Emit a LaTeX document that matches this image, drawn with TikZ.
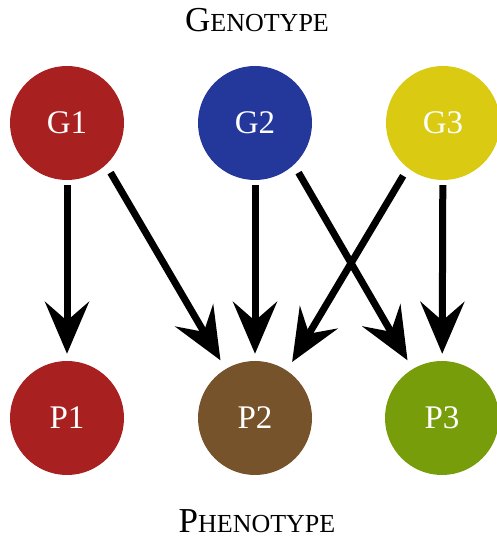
\documentclass[tikz,border=0pt]{standalone}
\usepackage{fontspec}
\setmainfont{Liberation Serif}
\usetikzlibrary{arrows.meta}
\definecolor{cred}{HTML}{A8201F}
\definecolor{cblue}{HTML}{24379B}
\definecolor{cyellow}{HTML}{DACA12}
\definecolor{cbrown}{HTML}{76532A}
\definecolor{cgreen}{HTML}{789D0B}
\begin{document}
\begin{tikzpicture}[x=1pt,y=1pt,
  ball/.style={circle,minimum size=114pt,inner sep=0pt,fill=#1,text=white,
    font=\fontsize{33}{36}\selectfont},
  arr/.style={line width=7pt,-{Stealth[length=52pt,width=44pt,inset=19pt]}},
  ttl/.style={anchor=base,inner sep=0pt}]
\useasboundingbox[fill=white] (0,0) rectangle (497,540);
\node[ball=cred]    (G1) at (67,417) {G1};
\node[ball=cblue]   (G2) at (255,417) {G2};
\node[ball=cyellow] (G3) at (443,417) {G3};
\node[ball=cred]    (P1) at (67,122) {P1};
\node[ball=cbrown]  (P2) at (255,122) {P2};
\node[ball=cgreen]  (P3) at (442,122) {P3};
\node[ttl] (T1) at (257,508) {{\fontsize{35}{40}\selectfont G}{\fontsize{26}{30}\selectfont ENOTYPE}};
\node[ttl] (T2) at (257,8) {{\fontsize{35}{40}\selectfont P}{\fontsize{26}{30}\selectfont HENOTYPE}};
\draw[arr,shorten <=5pt,shorten >=7pt] (G1) -- (P1);
\draw[arr,shorten <=5pt,shorten >=7pt] (G2) -- (P2);
\draw[arr,shorten <=5pt,shorten >=7pt] (G3) -- (P3);
\draw[arr,shorten <=9pt,shorten >=10pt] (G1.-47) -- (P2.121);
\draw[arr,shorten <=9pt,shorten >=10pt] (G2.-47) -- (P3.121);
\draw[arr,shorten <=9pt,shorten >=10pt] (G3.-128) -- (P2.56);
\end{tikzpicture}
\end{document}
